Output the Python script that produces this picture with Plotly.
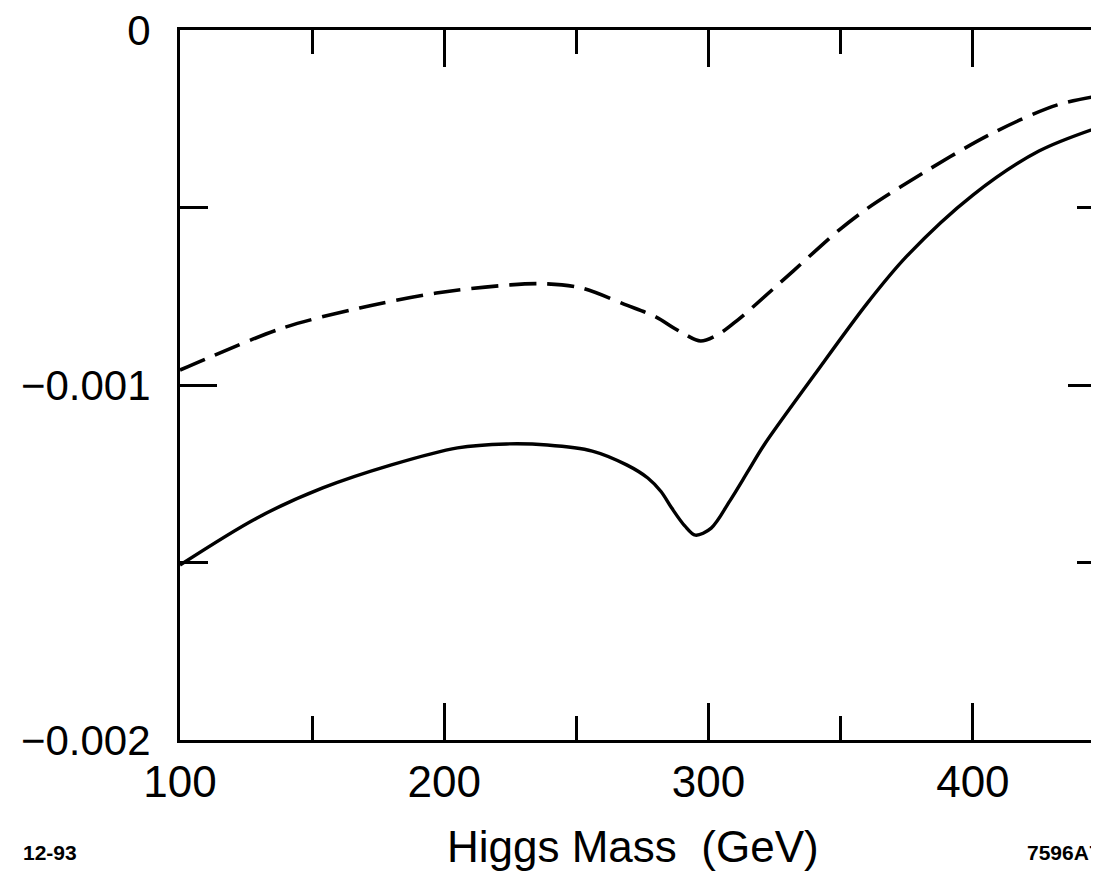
import plotly.graph_objects as go

# Higgs mass (GeV) and values
mass_dashed = [100, 112.5, 139, 168, 197, 225, 239, 252, 269, 280, 287, 291, 297, 304, 311, 315, 332, 349, 360, 375, 406, 432, 450]
val_dashed = [-0.000958, -0.000918, -0.000839, -0.000783, -0.000741, -0.000718, -0.000715, -0.000727,
              -0.000775, -0.000808, -0.000840, -0.000857, -0.000876, -0.000856, -0.000817, -0.000792,
              -0.000679, -0.000566, -0.000503, -0.000431, -0.000296, -0.000211, -0.000183]

mass_solid = [100, 129, 154, 180, 205, 223.5, 239, 256, 269, 277, 282, 286, 291, 295, 301, 308, 315, 321, 340, 360, 375, 400, 425, 450]
val_solid = [-0.001507, -0.001375, -0.001290, -0.001225, -0.001177, -0.001166, -0.001169, -0.001186,
             -0.001225, -0.001262, -0.001300, -0.001346, -0.001397, -0.001423, -0.001403, -0.001327,
             -0.001242, -0.001169, -0.000972, -0.000770, -0.000637, -0.000465, -0.000341, -0.000268]

x_ticks = [100, 200, 300, 400]
y_ticks = [0, -0.001, -0.002]
y_ticktext = ["0", "\u22120.001", "\u22120.002"]

FONT = "Liberation Sans, Arial, Helvetica, sans-serif"

fig = go.Figure()
fig.add_trace(go.Scatter(x=mass_dashed, y=val_dashed, mode="lines",
                         line=dict(color="black", width=3.6, dash="27px,11px", shape="spline", smoothing=0.9),
                         showlegend=False, hoverinfo="skip", cliponaxis=False))
fig.add_trace(go.Scatter(x=mass_solid, y=val_solid, mode="lines",
                         line=dict(color="black", width=3.4, shape="spline", smoothing=0.9),
                         showlegend=False, hoverinfo="skip", cliponaxis=False))

fig.update_layout(
    width=1099, height=882,
    margin=dict(l=172, r=2, t=22, b=150, autoexpand=False),
    paper_bgcolor="white", plot_bgcolor="white",
    font=dict(family=FONT, color="black"),
    showlegend=False,
)

fig.update_xaxes(
    range=[100, 450], showgrid=False, zeroline=False, automargin=False,
    showline=True, linecolor="black", linewidth=3, mirror="ticks",
    ticks="inside", ticklen=37, tickwidth=2.5, tickcolor="black",
    tickmode="array", tickvals=x_ticks, ticktext=[str(v) for v in x_ticks],
    tickfont=dict(size=44, family=FONT, color="black"),
    ticklabelstandoff=1, ticklabeloverflow="allow",
    minor=dict(ticks="inside", ticklen=24, tickwidth=2.5, tickcolor="black", dtick=50, tick0=100, showgrid=False),
)
fig.update_yaxes(
    range=[-0.002, 0], showgrid=False, zeroline=False, automargin=False,
    showline=True, linecolor="black", linewidth=3, mirror="ticks",
    ticks="inside", ticklen=37, tickwidth=2.5, tickcolor="black",
    tickmode="array", tickvals=y_ticks, ticktext=y_ticktext,
    tickfont=dict(size=42, family=FONT, color="black"),
    ticklabelstandoff=18, ticklabeloverflow="allow",
    minor=dict(ticks="inside", ticklen=28, tickwidth=2.5, tickcolor="black", dtick=0.0005, tick0=0, showgrid=False),
)

# axis title placed as an annotation under the plot
fig.add_annotation(text="Higgs Mass\u00a0\u00a0(GeV)", xref="paper", yref="paper", x=0.49, y=-0.150,
                   xanchor="center", yanchor="middle", showarrow=False,
                   font=dict(size=44, family=FONT, color="black"))
fig.add_annotation(text="<b>12-93</b>", xref="paper", yref="paper", x=-0.172, y=-0.158,
                   xanchor="left", yanchor="middle", showarrow=False,
                   font=dict(size=21, family=FONT, color="black"))
fig.add_annotation(text="<b>7596A7</b>", xref="paper", yref="paper", x=0.913, y=-0.158,
                   xanchor="left", yanchor="middle", showarrow=False,
                   font=dict(size=21, family=FONT, color="black"))

fig.write_html("out.html")
